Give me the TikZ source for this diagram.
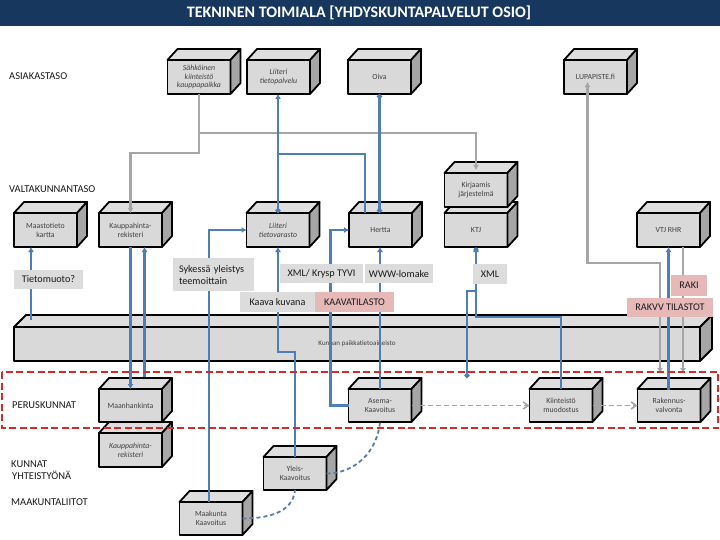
\documentclass[tikz,border=0pt]{standalone}
\usepackage{fontspec}
\setmainfont{Carlito}
\usetikzlibrary{arrows.meta,calc}
\definecolor{navy}{HTML}{17375E}
\definecolor{frontgrey}{HTML}{D9D9D9}
\definecolor{topgrey}{HTML}{DEDEDE}
\definecolor{sidegrey}{HTML}{A6A6A6}
\definecolor{boxtext}{HTML}{404040}
\definecolor{linkblue}{HTML}{4F7DB5}
\definecolor{linkgrey}{HTML}{A6A6A6}
\definecolor{labgrey}{HTML}{DCDCDC}
\definecolor{labpink}{HTML}{E6B9B8}
\definecolor{labtext}{HTML}{1A1A1A}
\definecolor{zonered}{HTML}{D42A2A}
\definecolor{curveblue}{HTML}{5A7BA6}
\newcommand\boxfont{\fontsize{7.8}{8.8}\selectfont}
\newcommand\labfont{\fontsize{10.2}{12}\selectfont}
\newcommand\levfont{\fontsize{10.5}{12}\selectfont}
\newcommand\boxfaces[2]{%
  \draw[boxedge,fill=topgrey] (#1.north west) -- ++(#2) -- ($(#1.north east)+(#2)$) -- (#1.north east) -- cycle;
  \draw[boxedge,fill=sidegrey] (#1.north east) -- ++(#2) -- ($(#1.south east)+(#2)$) -- (#1.south east) -- cycle;}
\tikzset{
  boxedge/.style={draw=black,line width=1.8pt,line join=round},
  cube/.style={draw=black,line width=1.8pt,line join=round,fill=frontgrey,minimum width=63pt,minimum height=34pt,
    inner sep=1pt,outer sep=0pt,align=center,font=\boxfont,text=boxtext},
  lab/.style={fill=labgrey,inner sep=0pt,outer sep=0pt,font=\labfont,text=labtext,align=center},
  pinklab/.style={lab,fill=labpink},
  level/.style={anchor=west,font=\levfont,text=labtext,align=left,inner sep=0pt},
  blueline/.style={draw=linkblue,line width=2.2pt},
  greyline/.style={draw=linkgrey,line width=2.2pt},
  flowarrow/.style={draw=linkgrey,line width=1.6pt,dash pattern=on 5pt off 3pt,-{Straight Barb[length=5pt,width=7pt]}},
  curvelink/.style={draw=curveblue,line width=1.8pt,dash pattern=on 4pt off 3pt},
  tipA/.tip={Latex[length=5pt,width=6pt]},
  tipO/.tip={Circle[length=5pt]},
}
\begin{document}
\begin{tikzpicture}[x=1pt,y=-1pt]
\useasboundingbox (0,0) rectangle (720,540);
\fill[white] (0,0) rectangle (720,540);
% title
\fill[navy] (0,0) rectangle (720,26);
\node[font=\fontsize{16}{18}\bfseries,text=white] (title) at (359,13) {TEKNINEN TOIMIALA [YHDYSKUNTAPALVELUT OSIO]};
% level labels
\node[level] (lasiakas) at (9,76) {ASIAKASTASO};
\node[level] (lvalta) at (9,189) {VALTAKUNNANTASO};
\node[level] (lperus) at (12,405) {PERUSKUNNAT};
\node[level] (lkunnat) at (11,470) {KUNNAT\\\hspace{1pt}YHTEISTYÖNÄ};
\node[level] (lmaak) at (11,502) {MAAKUNTALIITOT};

% asiakastaso boxes
\node[cube,font=\boxfont\itshape] (sahko) at (199,77) {Sähköinen\\kiinteistö\\kauppapaikka};
\boxfaces{sahko}{10,-11}
\node[cube,font=\boxfont\itshape] (ltp) at (278.5,77) {Liiteri\\tietopalvelu};
\boxfaces{ltp}{10,-11}
\node[cube] (oiva) at (379.5,77) {Oiva};
\boxfaces{oiva}{10,-11}
\node[cube] (lupa) at (595.5,77) {LUPAPISTE.fi};
\boxfaces{lupa}{10,-11}

% valtakunnantaso boxes
\node[cube] (ktj) at (476,230) {KTJ};
\boxfaces{ktj}{10,-11}
\node[cube] (kirj) at (476,190) {Kirjaamis\\järjestelmä};
\boxfaces{kirj}{10,-11}
\node[cube] (hertta) at (380.5,230) {Hertta};
\boxfaces{hertta}{10,-11}
\node[cube,font=\boxfont\itshape] (ltv) at (278,230) {Liiteri\\tietovarasto};
\boxfaces{ltv}{10,-11}
\node[cube] (vtj) at (668.5,230) {VTJ RHR};
\boxfaces{vtj}{10,-11}
\node[cube] (maasto) at (45.5,230) {Maastotieto\\kartta};
\boxfaces{maasto}{10,-11}
\node[cube] (kauppa) at (130.5,230) {Kauppahinta-\\rekisteri};
\boxfaces{kauppa}{10,-11}

% bar
\node[cube,minimum width=686pt,font=\fontsize{7}{8}\selectfont] (bar) at (357,344) {Kunnan paikkatietoaineisto};
\boxfaces{bar}{12,-12}

% lower boxes
\node[cube,font=\boxfont\itshape] (kauppa2) at (130.5,450) {Kauppahinta-\\rekisteri};
\boxfaces{kauppa2}{10,-11}
\node[cube,minimum height=33pt] (maan) at (130.5,405.5) {Maanhankinta};
\boxfaces{maan}{10,-11}
\node[cube,minimum height=33pt] (asema) at (380,405.5) {Asema-\\Kaavoitus};
\boxfaces{asema}{10,-11}
\node[cube,minimum height=33pt] (kiint) at (561,405.5) {Kiinteistö\\muodostus};
\boxfaces{kiint}{10,-11}
\node[cube,minimum height=33pt] (rak) at (669,405.5) {Rakennus-\\valvonta};
\boxfaces{rak}{10,-11}
\node[cube,minimum height=33pt] (yleis) at (295,473.5) {Yleis-\\Kaavoitus};
\boxfaces{yleis}{10,-11}
\node[cube,minimum height=33pt] (maak) at (211,518.5) {Maakunta\\Kaavoitus};
\boxfaces{maak}{10,-11}

% grey connectors from Sähköinen kiinteistökauppapaikka
\draw[greyline,-tipA] (sahko.south) -- ++(0,59) -| (kauppa.north);
\coordinate (gsplit) at ($(sahko.south)+(0,39)$);
\draw[greyline,-tipA] (gsplit) -| ($(kirj.north)+(0,-3)$);

% blue connectors
\draw[blueline,tipA-tipO] (ltv.north |- ltp.south) -- (ltv.north);
\coordinate (bsplit) at ($(ltv.north)+(0,-59)$);
\draw[blueline] (bsplit) -| ($(hertta.north west)+(16,0)$);
\draw[blueline,tipO-tipO] (oiva.south) -- (oiva.south |- hertta.north);
\draw[blueline,-tipA] ($(maak.north)+(-2,0)$) |- (ltv.west);
\draw[blueline,-tipA] (kauppa.south) -- (maan.north);
\draw[blueline,-tipA] ($(maan.north)+(14,-12)$) -- ($(kauppa.south)+(14,0)$);
\coordinate (tbar) at ($(bar.north west)+(17,-7)$);
\draw[blueline,-tipA] (tbar) -- ($(maasto.south)+(-14.5,0)$);
\draw[blueline,-tipA] (yleis.north) -- ++(0,-105) -| (ltv.south);
\draw[blueline,-tipA] (asema.west) -- ++(-18,0) |- (hertta.west);
\draw[blueline,-tipA] (asema.north) -- (asema.north |- hertta.south);
\draw[blueline,-tipA] (kiint.north) -- ++(0,-72) -| (ktj.south);
\fill[linkblue] ($(ktj.south)+(0,3)$) circle (2.6pt);
\coordinate (kdot) at (467,378);
\draw[blueline,tipO-] (kdot) |- ($(ktj.south)+(0,44)$);
\draw[blueline,-tipA] (rak.north) -- (rak.north -| vtj.south) -- (vtj.south);

% grey connectors on the right
\coordinate (lupaend) at ($(rak.north)+(-9,-16)$);
\draw[greyline,tipA-tipA] (lupaend) -- ++(0,-110) -| ($(lupa.center)+(-8,5)$);
\coordinate (vtjend) at ($(rak.north)+(14,-16)$);
\draw[greyline,-tipA] ($(vtj.south)+(14.5,0)$) -- (vtjend);

% flow arrows
\draw[flowarrow] (asema.east) -- (kiint.west);
\draw[flowarrow] (kiint.east) -- (rak.west);

% dashed curves
\draw[curvelink] (maak.east) to[out=0,in=-95] (yleis.south);
\draw[curvelink] (yleis.east) to[out=0,in=-95] (asema.south);

% red zone
\draw[zonered,line width=2.6pt,dash pattern=on 7pt off 3.5pt] (2,372) rectangle (718,428);

% labels
\node[lab,minimum width=69pt,minimum height=19pt] (ltieto) at (48.5,279.5) {Tietomuoto?};
\node[lab,minimum width=81pt,minimum height=33pt,align=left,text width=69pt] (lsyk) at (213.5,274.5) {Sykessä yleistys\\teemoittain};
\node[lab,minimum width=83pt,minimum height=19pt] (lxmlk) at (321.5,273.5) {XML/ Krysp TYVI};
\node[lab,minimum width=68pt,minimum height=19pt] (lwww) at (399,273.5) {WWW-lomake};
\node[lab,minimum width=75pt,minimum height=20pt] (lkk) at (277.5,302) {Kaava kuvana};
\node[pinklab,minimum width=79pt,minimum height=20pt] (lkt) at (354.5,302) {KAAVATILASTO};
\node[lab,minimum width=34pt,minimum height=20pt] (lxml) at (490,274) {XML};
\node[pinklab,minimum width=36pt,minimum height=21pt] (lraki) at (689,285.5) {RAKI};
\node[pinklab,minimum width=86pt,minimum height=19pt] (lrakvv) at (670,307.5) {RAKVV TILASTOT};
\end{tikzpicture}
\end{document}
